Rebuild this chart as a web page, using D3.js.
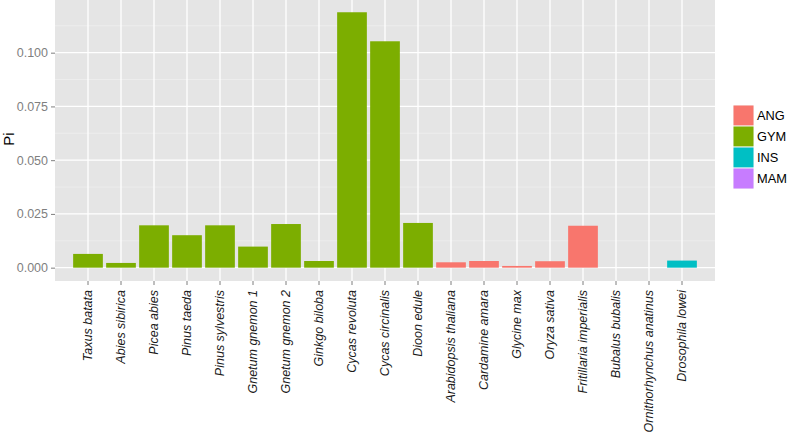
<!DOCTYPE html>
<html>
<head>
<meta charset="utf-8">
<script src="https://cdn.jsdelivr.net/npm/d3@7"></script>
<style>
  body { margin: 0; background: #fff; }
  svg { display: block; font-family: "Liberation Sans", Arial, sans-serif; }
</style>
</head>
<body>
<svg width="787" height="436"></svg>
<script>
var species = ["Taxus batata", "Abies sibirica", "Picea abies", "Pinus taeda", "Pinus sylvestris",
  "Gnetum gnemon 1", "Gnetum gnemon 2", "Ginkgo biloba", "Cycas revoluta", "Cycas circinalis",
  "Dioon edule", "Arabidopsis thaliana", "Cardamine amara", "Glycine max", "Oryza sativa",
  "Fritillaria imperialis", "Bubalus bubalis", "Ornithorhynchus anatinus", "Drosophila lowei"];
var groups = ["GYM", "GYM", "GYM", "GYM", "GYM", "GYM", "GYM", "GYM", "GYM", "GYM", "GYM",
  "ANG", "ANG", "ANG", "ANG", "ANG", "MAM", "MAM", "INS"];
var piValues = [0.0064, 0.0022, 0.0197, 0.0151, 0.0197, 0.0098, 0.0203, 0.0031, 0.1188, 0.1053,
  0.0208, 0.0025, 0.0031, 0.0008, 0.0030, 0.0195, 0, 0, 0.0033];
var legendKeys = ["ANG", "GYM", "INS", "MAM"];
var legendColors = ["#F8766D", "#7CAE00", "#00BFC4", "#C77CFF"];
var yTicks = [0, 0.025, 0.05, 0.075, 0.1];
var yMinor = [0.0125, 0.0375, 0.0625, 0.0875, 0.1125];

var svg = d3.select("svg");
var panelL = 55, panelR = 715, panelT = 0, panelB = 281;

var x = d3.scaleBand().domain(species).range([panelL, panelR]).paddingInner(0.1).paddingOuter(0.55);
var y = d3.scaleLinear().domain([-0.0062, 0.1245]).range([panelB, panelT]);
var color = d3.scaleOrdinal().domain(legendKeys).range(legendColors);

var rows = species.map(function(s, i) { return {name: s, group: groups[i], value: piValues[i]}; });

// panel
svg.append("rect").attr("x", panelL).attr("y", panelT)
  .attr("width", panelR - panelL).attr("height", panelB - panelT).attr("fill", "#e5e5e5");

svg.append("g").selectAll("line").data(yMinor).enter().append("line")
  .attr("x1", panelL).attr("x2", panelR)
  .attr("y1", function(d) { return y(d); }).attr("y2", function(d) { return y(d); })
  .attr("stroke", "#f2f2f2").attr("stroke-width", 0.6);

svg.append("g").selectAll("line").data(yTicks).enter().append("line")
  .attr("x1", panelL).attr("x2", panelR)
  .attr("y1", function(d) { return y(d); }).attr("y2", function(d) { return y(d); })
  .attr("stroke", "#fff").attr("stroke-width", 1.3);

svg.append("g").selectAll("line").data(species).enter().append("line")
  .attr("x1", function(d) { return x(d) + x.bandwidth() / 2; })
  .attr("x2", function(d) { return x(d) + x.bandwidth() / 2; })
  .attr("y1", panelT).attr("y2", panelB)
  .attr("stroke", "#fff").attr("stroke-width", 1.3);

// bars
svg.append("g").selectAll("rect").data(rows).enter().append("rect")
  .attr("x", function(d) { return x(d.name); })
  .attr("width", x.bandwidth())
  .attr("y", function(d) { return y(d.value); })
  .attr("height", function(d) { return y(0) - y(d.value); })
  .attr("fill", function(d) { return color(d.group); });

// y axis
var yAxis = svg.append("g").attr("transform", "translate(" + panelL + ",0)")
  .call(d3.axisLeft(y).tickValues(yTicks).tickFormat(d3.format(".3f")).tickSize(4).tickPadding(3));
yAxis.select(".domain").remove();
yAxis.selectAll("line").attr("stroke", "#7f7f7f");
yAxis.selectAll("text").attr("fill", "#7f7f7f").style("font-size", "12.5px");

// x axis
var xAxis = svg.append("g").attr("transform", "translate(0," + panelB + ")")
  .call(d3.axisBottom(x).tickSize(4).tickFormat(""));
xAxis.select(".domain").remove();
xAxis.selectAll("line").attr("stroke", "#7f7f7f");

svg.append("g").selectAll("text").data(species).enter().append("text")
  .attr("transform", function(d) {
    return "translate(" + (x(d) + x.bandwidth() / 2) + "," + (panelB + 9) + ") rotate(-90)";
  })
  .attr("text-anchor", "end").attr("dy", "0.35em")
  .style("font-size", "12.5px").style("font-style", "italic")
  .attr("fill", "#1a1a1a")
  .text(function(d) { return d; });

// y title
svg.append("text").attr("transform", "translate(14,139) rotate(-90)")
  .attr("text-anchor", "middle").style("font-size", "15px").attr("fill", "#000").text("Pi");

// legend
var lg = svg.append("g").attr("transform", "translate(733,105)");
var item = lg.selectAll("g").data(legendKeys).enter().append("g")
  .attr("transform", function(d, i) { return "translate(0," + (i * 21) + ")"; });
item.append("rect").attr("width", 21).attr("height", 21).attr("fill", "#f2f2f2")
  .attr("stroke", "#fff").attr("stroke-width", 0.5);
item.append("rect").attr("x", 0.5).attr("y", 0.5).attr("width", 20).attr("height", 20)
  .attr("fill", function(d) { return color(d); });
item.append("text").attr("x", 24).attr("y", 10.5).attr("dy", "0.35em")
  .style("font-size", "12.8px").attr("fill", "#000").text(function(d) { return d; });
</script>
</body>
</html>
